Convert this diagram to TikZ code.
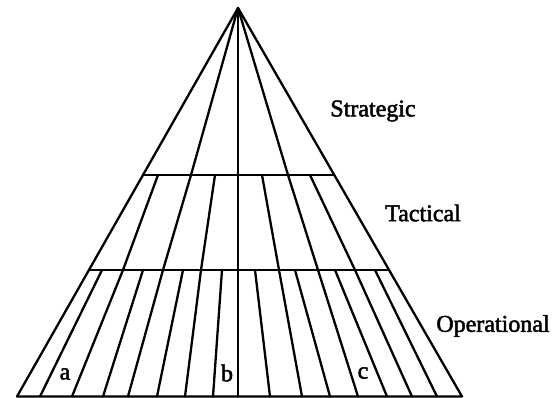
\documentclass[tikz,border=0pt]{standalone}
\usepackage{fontspec}
\setmainfont{Liberation Serif}
\newfontfamily\heavyserif[FakeBold=2]{Liberation Serif}
\begin{document}
\begin{tikzpicture}[x=1pt,y=-1pt,
  ln/.style={line width=2.3pt,line join=round,line cap=round},
  lvl/.style={font=\heavyserif\fontsize{24}{26}\selectfont,inner sep=0pt},
  lab/.style={font=\heavyserif\fontsize{24}{26}\selectfont,inner sep=0pt}]
\useasboundingbox (0,0) rectangle (560,398);
% apex and base corners
\coordinate (A) at (238,8);
\coordinate (BL) at (17,396.5);
\coordinate (BR) at (462,396.5);
\coordinate (BC) at (238,396.5);
% band boundaries on edges
\coordinate (S1L) at (143.4,175);
\coordinate (S1R) at (333.8,175);
\coordinate (S2L) at (89.3,270);
\coordinate (S2R) at (388.7,270);
% outline
\draw[ln] (BL) -- (A) -- (BR) -- cycle;
\draw[ln] (A) -- (BC);
\draw[ln] (S1L) -- (S1R);
\draw[ln] (S2L) -- (S2R);
% strategic dividers (through all levels)
\draw[ln] (A) -- (191,175) -- (163,270) -- (128,396.5);
\draw[ln] (A) -- (288,175) -- (318,270) -- (358,396.5);
% tactical dividers
\draw[ln] (158,175) -- (123,270) -- (72,396.5);
\draw[ln] (215,175) -- (201,270) -- (185,396.5);
\draw[ln] (262,175) -- (279,270) -- (302,396.5);
\draw[ln] (310,175) -- (355,270) -- (412,396.5);
% operational dividers
\foreach \t/\b in {102/40,143/103,183/157,222/213,255/270,295/330,335/387,375/437}
  \draw[ln] (\t,270) -- (\b,396.5);
% level labels
\node[lvl] (strat) at (373,111) {Strategic};
\node[lvl] (tact) at (423,213) {Tactical};
\node[lvl] (oper) at (493,326) {Operational};
% letters
\node[lab] (la) at (65,374) {a};
\node[lab] (lb) at (227,373) {b};
\node[lab] (lc) at (363,373) {c};
\end{tikzpicture}
\end{document}
